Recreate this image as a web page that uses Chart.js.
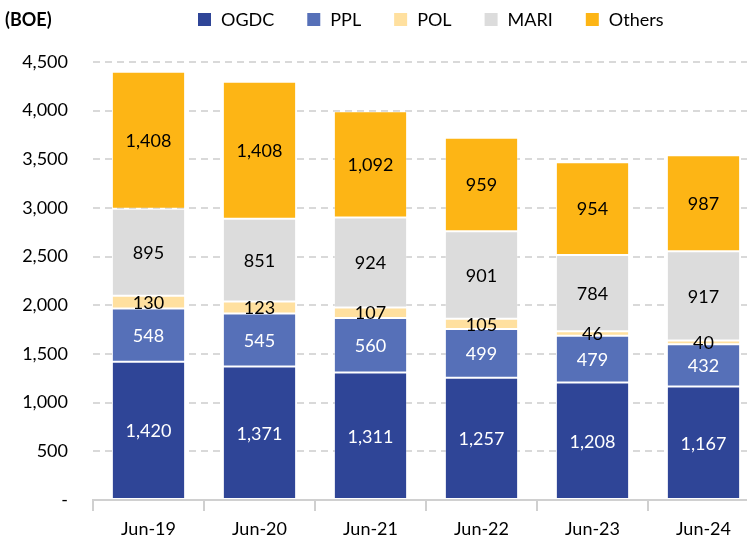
<!DOCTYPE html>
<html>
<head>
<meta charset="utf-8">
<script src="https://cdn.jsdelivr.net/npm/chart.js@4/dist/chart.umd.min.js"></script>
<style>
  html, body { margin: 0; padding: 0; background: #fff; overflow: hidden; }
  #wrap { position: relative; width: 747px; height: 538px; overflow: hidden; }
  #wrap canvas { position: absolute; left: 0; top: 0; }
</style>
</head>
<body>
<div id="wrap"><canvas id="c" width="762" height="538"></canvas></div>
<script>
// chart data
const categories = ['Jun-19', 'Jun-20', 'Jun-21', 'Jun-22', 'Jun-23', 'Jun-24'];
const ogdc   = [1420, 1371, 1311, 1257, 1208, 1167];
const ppl    = [548, 545, 560, 499, 479, 432];
const pol    = [130, 123, 107, 105, 46, 40];
const mari   = [895, 851, 924, 901, 784, 917];
const others = [1408, 1408, 1092, 959, 954, 987];
const yTicks = [0, 500, 1000, 1500, 2000, 2500, 3000, 3500, 4000, 4500];

const FONT = 'Lato, "Open Sans", sans-serif';

const series = [
  { label: 'OGDC',   data: ogdc,   color: '#2f4597', text: '#fff' },
  { label: 'PPL',    data: ppl,    color: '#5670b8', text: '#fff' },
  { label: 'POL',    data: pol,    color: '#ffe09f', text: '#000' },
  { label: 'MARI',   data: mari,   color: '#dcdcdc', text: '#000' },
  { label: 'Others', data: others, color: '#fdb515', text: '#000' }
];

function fmt(v){ return v.toLocaleString('en-US'); }

// value labels centred in each segment
const segLabels = {
  id: 'segLabels',
  afterDatasetsDraw(chart) {
    const ctx = chart.ctx;
    ctx.save();
    ctx.font = '18px ' + FONT;
    ctx.textAlign = 'center';
    ctx.textBaseline = 'middle';
    chart.data.datasets.forEach((ds, i) => {
      const meta = chart.getDatasetMeta(i);
      meta.data.forEach((bar, j) => {
        ctx.fillStyle = series[i].text;
        ctx.fillText(fmt(ds.data[j]), bar.x, (bar.y + bar.base) / 2 + 1);
      });
    });
    ctx.restore();
  }
};

// "(BOE)" unit and legend row drawn by hand so it sits where the original has it
const header = {
  id: 'header',
  afterDraw(chart) {
    const ctx = chart.ctx;
    ctx.save();
    ctx.fillStyle = '#000';
    ctx.textBaseline = 'middle';
    ctx.font = 'bold 18px ' + FONT;
    ctx.fillText('(BOE)', 5, 20);
    ctx.font = '18px ' + FONT;
    let x = 198;
    series.forEach(s => {
      ctx.fillStyle = s.color;
      ctx.fillRect(x, 13, 13, 13);
      ctx.fillStyle = '#000';
      ctx.fillText(s.label, x + 23, 20);
      x += 23 + ctx.measureText(s.label).width + 33;
    });
    ctx.restore();
  }
};

new Chart(document.getElementById('c'), {
  type: 'bar',
  data: {
    labels: categories,
    datasets: series.map(s => ({
      label: s.label,
      data: s.data,
      backgroundColor: s.color,
      borderColor: 'rgba(255,255,255,0.25)',
      borderWidth: 1,
      borderSkipped: false,
      barPercentage: 0.66,
      categoryPercentage: 1
    }))
  },
  options: {
    responsive: false,
    animation: false,
    layout: { padding: { top: 62, right: 3, left: 0, bottom: 0 } },
    plugins: {
      legend: { display: false },
      tooltip: { enabled: false }
    },
    scales: {
      x: {
        stacked: true,
        afterFit(s) { s.height = 38; },
        grid: { drawOnChartArea: false, offset: true, tickLength: 11, color: '#d0d0d0', lineWidth: 2 },
        border: { color: '#d0d0d0', width: 2 },
        ticks: { color: '#000', font: { family: FONT, size: 18 }, padding: 7 }
      },
      y: {
        stacked: true,
        min: 0,
        max: 4500,
        afterFit(s) { s.width = 93; },
        afterBuildTicks(s) { s.ticks = yTicks.map(v => ({ value: v })); },
        grid: { color: '#d9d9d9', lineWidth: 2, drawTicks: false },
        border: { display: true, color: 'rgba(0,0,0,0)', width: 0, dash: [7, 5] },
        ticks: {
          color: '#000',
          font: { family: FONT, size: 18 },
          padding: 25,
          callback: v => v === 0 ? '-' : fmt(v)
        }
      }
    }
  },
  plugins: [segLabels, header]
});
</script>
</body>
</html>
